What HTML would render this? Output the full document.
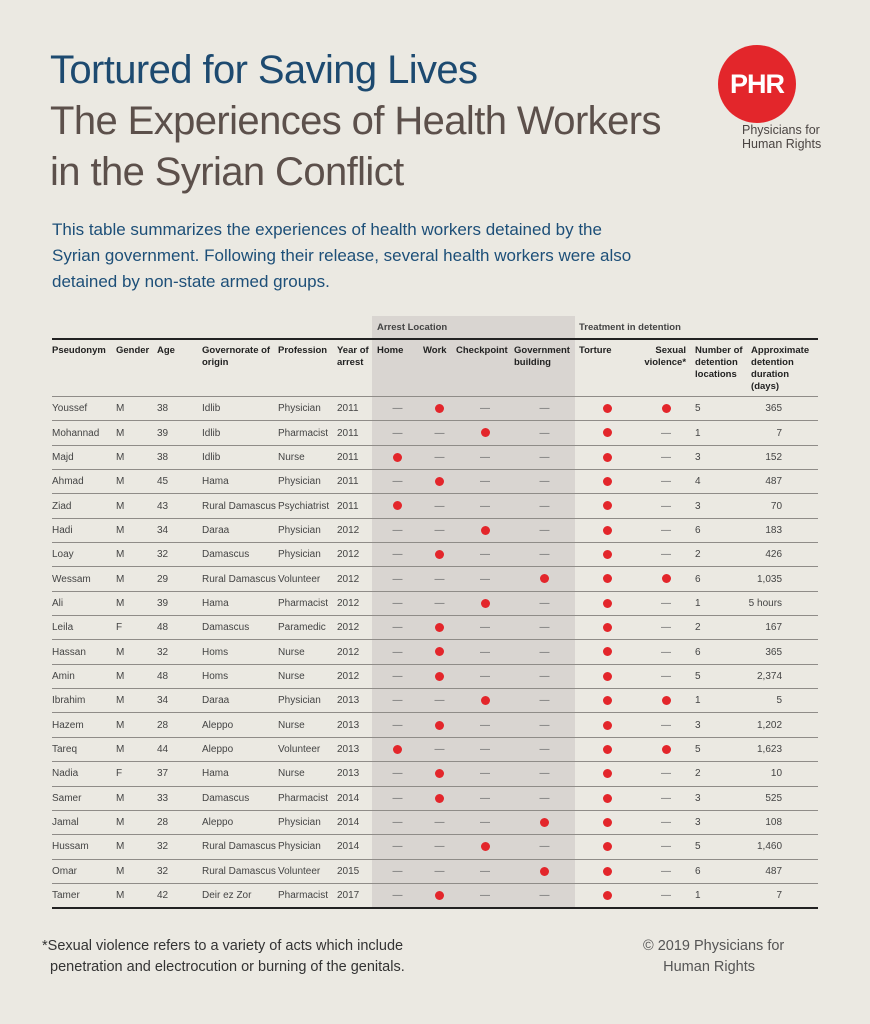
<!DOCTYPE html>
<html><head><meta charset="utf-8"><style>
body{margin:0;background:#ebe9e2;font-family:"Liberation Sans",sans-serif;}
#p{position:relative;width:870px;height:1024px;overflow:hidden;background:#ebe9e2;}
.t{position:absolute;left:50px;font-size:40px;letter-spacing:-0.6px;line-height:51px;white-space:nowrap}
#logo{position:absolute;left:718px;top:45px;width:78px;height:78px;border-radius:50%;background:#e3262b;color:#fff;font-weight:bold;font-size:27px;line-height:78px;text-align:center;letter-spacing:-1px}
#logot{position:absolute;left:742px;top:123px;font-size:12.5px;line-height:14px;color:#4a4442}
#sub{position:absolute;left:52px;top:217px;font-size:17px;line-height:26px;color:#1d4f78;width:600px}
#shade{position:absolute;left:372px;top:316px;width:203px;height:592px;background:#d9d5d1}
table{position:absolute;left:52px;top:316px;border-collapse:collapse;table-layout:fixed;width:766px;font-size:10px;color:#444}
td{padding:0;height:23.35px;border-bottom:1px solid #8f8c88;white-space:nowrap;vertical-align:middle;box-sizing:content-box}
tr.g td{height:22px;border-bottom:2px solid #222;font-weight:bold;font-size:9.5px}
tr.h td{height:51px;vertical-align:top;padding-top:5px;padding-left:0;font-weight:bold;font-size:9.5px;line-height:12px;white-space:normal;color:#222}
tr:last-child td{border-bottom:2px solid #222}
.c{text-align:center;color:#666}
.r{text-align:right;padding-right:36px}
.d{display:inline-block;width:9px;height:9px;border-radius:50%;background:#e3262b;vertical-align:middle}
#fn{position:absolute;left:42px;top:936px;font-size:14.5px;line-height:21px;color:#333}
#cp{position:absolute;left:643px;top:936px;font-size:14.5px;line-height:21px;color:#555}
</style></head><body><div id="p">
<div class="t" style="top:45px;color:#1d4a70">Tortured for Saving Lives</div>
<div class="t" style="top:96px;color:#5c504b">The Experiences of Health Workers</div>
<div class="t" style="top:147px;color:#5c504b">in the Syrian Conflict</div>
<div id="logo">PHR</div>
<div id="logot">Physicians for<br>Human Rights</div>
<div id="sub">This table summarizes the experiences of health workers detained by the Syrian government. Following their release, several health workers were also detained by non-state armed groups.</div>
<div id="shade"></div>
<table>
<colgroup><col style="width:64px"><col style="width:41px"><col style="width:45px"><col style="width:76px"><col style="width:59px"><col style="width:35px"><col style="width:51px"><col style="width:33px"><col style="width:58px"><col style="width:61px"><col style="width:65px"><col style="width:52px"><col style="width:56px"><col style="width:70px"></colgroup>
<tr class="g"><td></td><td></td><td></td><td></td><td></td><td></td><td colspan="4" style="padding-left:5px">Arrest Location</td><td colspan="4" style="padding-left:4px">Treatment in detention</td></tr>
<tr class="h"><td>Pseudonym</td><td>Gender</td><td>Age</td><td>Governorate of origin</td><td>Profession</td><td>Year of arrest</td><td style="padding-left:5px">Home</td><td>Work</td><td>Checkpoint</td><td>Government building</td><td style="padding-left:4px">Torture</td><td style="text-align:right;padding-right:6px">Sexual violence*</td><td style="padding-left:3px">Number of detention locations</td><td style="padding-left:3px">Approximate detention duration (days)</td></tr>
<tr><td>Youssef</td><td>M</td><td>38</td><td>Idlib</td><td>Physician</td><td>2011</td><td class="c">—</td><td class="c"><i class="d"></i></td><td class="c">—</td><td class="c">—</td><td class="c"><i class="d"></i></td><td class="c"><i class="d"></i></td><td style="padding-left:3px">5</td><td class="r">365</td></tr>
<tr><td>Mohannad</td><td>M</td><td>39</td><td>Idlib</td><td>Pharmacist</td><td>2011</td><td class="c">—</td><td class="c">—</td><td class="c"><i class="d"></i></td><td class="c">—</td><td class="c"><i class="d"></i></td><td class="c">—</td><td style="padding-left:3px">1</td><td class="r">7</td></tr>
<tr><td>Majd</td><td>M</td><td>38</td><td>Idlib</td><td>Nurse</td><td>2011</td><td class="c"><i class="d"></i></td><td class="c">—</td><td class="c">—</td><td class="c">—</td><td class="c"><i class="d"></i></td><td class="c">—</td><td style="padding-left:3px">3</td><td class="r">152</td></tr>
<tr><td>Ahmad</td><td>M</td><td>45</td><td>Hama</td><td>Physician</td><td>2011</td><td class="c">—</td><td class="c"><i class="d"></i></td><td class="c">—</td><td class="c">—</td><td class="c"><i class="d"></i></td><td class="c">—</td><td style="padding-left:3px">4</td><td class="r">487</td></tr>
<tr><td>Ziad</td><td>M</td><td>43</td><td>Rural Damascus</td><td>Psychiatrist</td><td>2011</td><td class="c"><i class="d"></i></td><td class="c">—</td><td class="c">—</td><td class="c">—</td><td class="c"><i class="d"></i></td><td class="c">—</td><td style="padding-left:3px">3</td><td class="r">70</td></tr>
<tr><td>Hadi</td><td>M</td><td>34</td><td>Daraa</td><td>Physician</td><td>2012</td><td class="c">—</td><td class="c">—</td><td class="c"><i class="d"></i></td><td class="c">—</td><td class="c"><i class="d"></i></td><td class="c">—</td><td style="padding-left:3px">6</td><td class="r">183</td></tr>
<tr><td>Loay</td><td>M</td><td>32</td><td>Damascus</td><td>Physician</td><td>2012</td><td class="c">—</td><td class="c"><i class="d"></i></td><td class="c">—</td><td class="c">—</td><td class="c"><i class="d"></i></td><td class="c">—</td><td style="padding-left:3px">2</td><td class="r">426</td></tr>
<tr><td>Wessam</td><td>M</td><td>29</td><td>Rural Damascus</td><td>Volunteer</td><td>2012</td><td class="c">—</td><td class="c">—</td><td class="c">—</td><td class="c"><i class="d"></i></td><td class="c"><i class="d"></i></td><td class="c"><i class="d"></i></td><td style="padding-left:3px">6</td><td class="r">1,035</td></tr>
<tr><td>Ali</td><td>M</td><td>39</td><td>Hama</td><td>Pharmacist</td><td>2012</td><td class="c">—</td><td class="c">—</td><td class="c"><i class="d"></i></td><td class="c">—</td><td class="c"><i class="d"></i></td><td class="c">—</td><td style="padding-left:3px">1</td><td class="r">5 hours</td></tr>
<tr><td>Leila</td><td>F</td><td>48</td><td>Damascus</td><td>Paramedic</td><td>2012</td><td class="c">—</td><td class="c"><i class="d"></i></td><td class="c">—</td><td class="c">—</td><td class="c"><i class="d"></i></td><td class="c">—</td><td style="padding-left:3px">2</td><td class="r">167</td></tr>
<tr><td>Hassan</td><td>M</td><td>32</td><td>Homs</td><td>Nurse</td><td>2012</td><td class="c">—</td><td class="c"><i class="d"></i></td><td class="c">—</td><td class="c">—</td><td class="c"><i class="d"></i></td><td class="c">—</td><td style="padding-left:3px">6</td><td class="r">365</td></tr>
<tr><td>Amin</td><td>M</td><td>48</td><td>Homs</td><td>Nurse</td><td>2012</td><td class="c">—</td><td class="c"><i class="d"></i></td><td class="c">—</td><td class="c">—</td><td class="c"><i class="d"></i></td><td class="c">—</td><td style="padding-left:3px">5</td><td class="r">2,374</td></tr>
<tr><td>Ibrahim</td><td>M</td><td>34</td><td>Daraa</td><td>Physician</td><td>2013</td><td class="c">—</td><td class="c">—</td><td class="c"><i class="d"></i></td><td class="c">—</td><td class="c"><i class="d"></i></td><td class="c"><i class="d"></i></td><td style="padding-left:3px">1</td><td class="r">5</td></tr>
<tr><td>Hazem</td><td>M</td><td>28</td><td>Aleppo</td><td>Nurse</td><td>2013</td><td class="c">—</td><td class="c"><i class="d"></i></td><td class="c">—</td><td class="c">—</td><td class="c"><i class="d"></i></td><td class="c">—</td><td style="padding-left:3px">3</td><td class="r">1,202</td></tr>
<tr><td>Tareq</td><td>M</td><td>44</td><td>Aleppo</td><td>Volunteer</td><td>2013</td><td class="c"><i class="d"></i></td><td class="c">—</td><td class="c">—</td><td class="c">—</td><td class="c"><i class="d"></i></td><td class="c"><i class="d"></i></td><td style="padding-left:3px">5</td><td class="r">1,623</td></tr>
<tr><td>Nadia</td><td>F</td><td>37</td><td>Hama</td><td>Nurse</td><td>2013</td><td class="c">—</td><td class="c"><i class="d"></i></td><td class="c">—</td><td class="c">—</td><td class="c"><i class="d"></i></td><td class="c">—</td><td style="padding-left:3px">2</td><td class="r">10</td></tr>
<tr><td>Samer</td><td>M</td><td>33</td><td>Damascus</td><td>Pharmacist</td><td>2014</td><td class="c">—</td><td class="c"><i class="d"></i></td><td class="c">—</td><td class="c">—</td><td class="c"><i class="d"></i></td><td class="c">—</td><td style="padding-left:3px">3</td><td class="r">525</td></tr>
<tr><td>Jamal</td><td>M</td><td>28</td><td>Aleppo</td><td>Physician</td><td>2014</td><td class="c">—</td><td class="c">—</td><td class="c">—</td><td class="c"><i class="d"></i></td><td class="c"><i class="d"></i></td><td class="c">—</td><td style="padding-left:3px">3</td><td class="r">108</td></tr>
<tr><td>Hussam</td><td>M</td><td>32</td><td>Rural Damascus</td><td>Physician</td><td>2014</td><td class="c">—</td><td class="c">—</td><td class="c"><i class="d"></i></td><td class="c">—</td><td class="c"><i class="d"></i></td><td class="c">—</td><td style="padding-left:3px">5</td><td class="r">1,460</td></tr>
<tr><td>Omar</td><td>M</td><td>32</td><td>Rural Damascus</td><td>Volunteer</td><td>2015</td><td class="c">—</td><td class="c">—</td><td class="c">—</td><td class="c"><i class="d"></i></td><td class="c"><i class="d"></i></td><td class="c">—</td><td style="padding-left:3px">6</td><td class="r">487</td></tr>
<tr><td>Tamer</td><td>M</td><td>42</td><td>Deir ez Zor</td><td>Pharmacist</td><td>2017</td><td class="c">—</td><td class="c"><i class="d"></i></td><td class="c">—</td><td class="c">—</td><td class="c"><i class="d"></i></td><td class="c">—</td><td style="padding-left:3px">1</td><td class="r">7</td></tr>
</table>
<div id="fn">*Sexual violence refers to a variety of acts which include<br>&nbsp;&nbsp;penetration and electrocution or burning of the genitals.</div>
<div id="cp">© 2019 Physicians for<br>&nbsp;&nbsp;&nbsp;&nbsp;&nbsp;Human Rights</div>
</div></body></html>
